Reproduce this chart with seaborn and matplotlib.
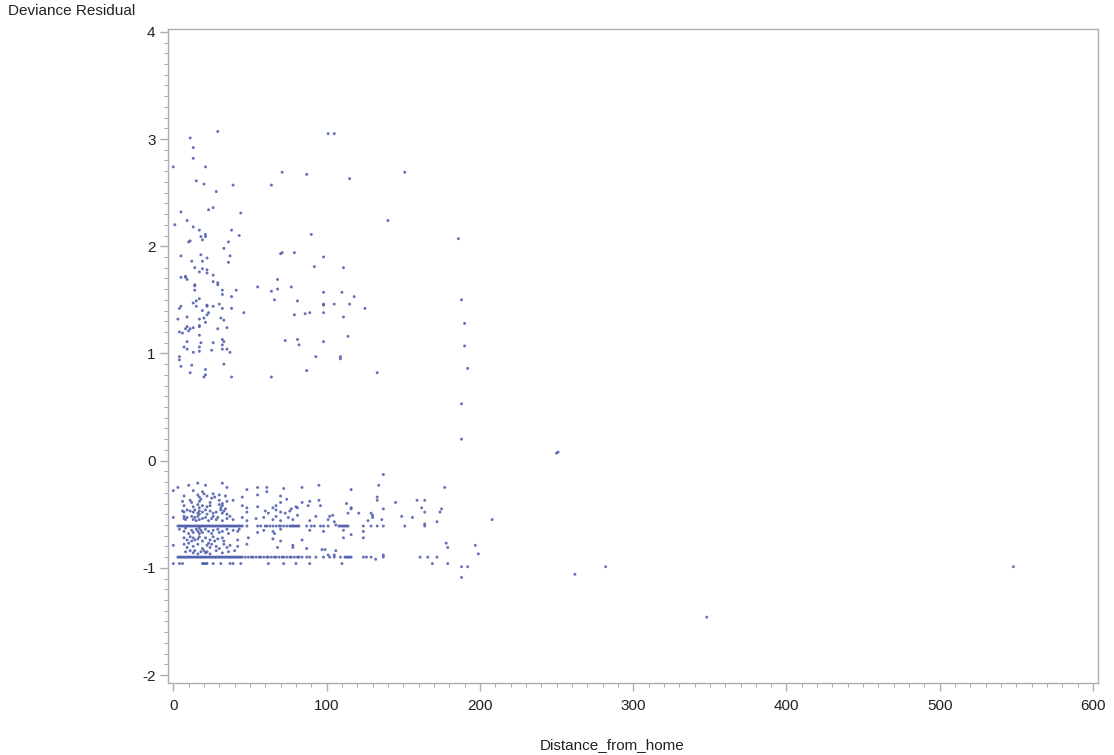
import matplotlib
matplotlib.use("Agg")
import matplotlib.pyplot as plt
import pandas as pd
import seaborn as sns
from matplotlib.ticker import MultipleLocator, FixedLocator

# ---- data: (distance_from_home, deviance residual) ----
# observations with a positive residual
pos_points = [
    (29, 3.07), (11, 3.01), (13, 2.92), (13, 2.82), (0, 2.74), (21, 2.74), (71, 2.69),
    (15, 2.61), (20, 2.58), (39, 2.57), (64, 2.57), (28, 2.51), (5, 2.32), (23, 2.34),
    (26, 2.36), (44, 2.31), (9, 2.24), (1, 2.20), (13, 2.18), (17, 2.15), (38, 2.15),
    (21, 2.11), (18, 2.09), (21, 2.09), (43, 2.10), (19, 2.06), (11, 2.05), (10, 2.04),
    (36, 2.04), (33, 1.98), (71, 1.94), (70, 1.93), (79, 1.94), (5, 1.91), (18, 1.92),
    (22, 1.89), (37, 1.91), (12, 1.86), (19, 1.86), (36, 1.85), (14, 1.80), (17, 1.76),
    (19, 1.79), (22, 1.78), (22, 1.75), (26, 1.73), (5, 1.71), (8, 1.72), (8, 1.71),
    (9, 1.69), (68, 1.69),
    (14, 1.64), (14, 1.63), (26, 1.67), (29, 1.66), (29, 1.64), (55, 1.62), (64, 1.58),
    (68, 1.60), (77, 1.62), (32, 1.59), (41, 1.59), (14, 1.59), (32, 1.55), (38, 1.53),
    (17, 1.51), (66, 1.50), (15, 1.49), (13, 1.47), (30, 1.46), (81, 1.49), (22, 1.45),
    (22, 1.44), (15, 1.44), (26, 1.44), (5, 1.44), (4, 1.42), (32, 1.42), (38, 1.42),
    (19, 1.40), (23, 1.38), (46, 1.38), (9, 1.34), (22, 1.36), (79, 1.36), (3, 1.32),
    (20, 1.33), (31, 1.33), (17, 1.32), (21, 1.29), (33, 1.31), (17, 1.26), (17, 1.25),
    (9, 1.25), (35, 1.24), (8, 1.23), (11, 1.23), (10, 1.21), (13, 1.24), (29, 1.23),
    (4, 1.20), (6, 1.19), (17, 1.17), (32, 1.13), (81, 1.13), (73, 1.12), (9, 1.11),
    (18, 1.10), (26, 1.10), (33, 1.11), (32, 1.08), (82, 1.08), (7, 1.06), (17, 1.06),
    (9, 1.04), (32, 1.04), (35, 1.04), (25, 1.03), (17, 1.02), (37, 1.01), (13, 1.01),
    (4, 0.97), (4, 0.94), (12, 0.89), (33, 0.90), (5, 0.88), (21, 0.85), (11, 0.82),
    (21, 0.80), (20, 0.78), (38, 0.78), (64, 0.78),
    (101, 3.05), (105, 3.05), (87, 2.67), (151, 2.69), (115, 2.63), (140, 2.24),
    (90, 2.11), (186, 2.07), (98, 1.90), (92, 1.81), (111, 1.80), (98, 1.57), (110, 1.57),
    (118, 1.53), (98, 1.46), (98, 1.45), (105, 1.46), (115, 1.46), (125, 1.42),
    (188, 1.50), (86, 1.37), (89, 1.38), (98, 1.38), (111, 1.34), (190, 1.28), (98, 1.11),
    (114, 1.16), (190, 1.07), (93, 0.97), (109, 0.97), (109, 0.95), (87, 0.84),
    (133, 0.82), (192, 0.86), (188, 0.53), (188, 0.20), (250, 0.07), (251, 0.08),
]

# observations with a negative residual (scattered part)
neg_points = [
    (3, -0.25), (10, -0.23), (16, -0.21), (21, -0.23), (32, -0.21), (35, -0.25),
    (55, -0.25), (61, -0.25), (72, -0.26),
    (0, -0.28), (13, -0.28), (19, -0.29), (48, -0.27), (61, -0.29),
    (7, -0.33), (16, -0.32), (17, -0.34), (20, -0.31), (22, -0.33), (25, -0.35),
    (26, -0.31), (27, -0.34), (30, -0.32), (34, -0.33), (45, -0.34), (55, -0.32),
    (70, -0.33), (74, -0.36),
    (6, -0.38), (11, -0.37), (12, -0.39), (17, -0.38), (18, -0.36), (24, -0.39),
    (30, -0.37), (32, -0.40), (35, -0.38), (39, -0.37), (70, -0.39),
    (7, -0.42), (13, -0.43), (16, -0.41), (17, -0.44), (19, -0.42), (22, -0.43),
    (24, -0.42), (30, -0.41), (31, -0.44), (32, -0.42), (34, -0.45), (45, -0.42),
    (48, -0.44), (55, -0.43), (65, -0.44), (67, -0.42), (80, -0.43),
    (6, -0.47), (7, -0.48), (9, -0.46), (11, -0.47), (13, -0.48), (14, -0.46),
    (16, -0.49), (17, -0.47), (17, -0.50), (19, -0.48), (21, -0.46), (22, -0.50),
    (24, -0.47), (26, -0.49), (28, -0.48), (31, -0.46), (32, -0.49), (33, -0.47),
    (35, -0.50), (48, -0.48), (60, -0.47), (62, -0.49), (67, -0.46), (70, -0.48),
    (73, -0.49), (76, -0.47),
    (0, -0.53), (7, -0.54), (7, -0.52), (8, -0.55), (9, -0.53), (12, -0.52),
    (13, -0.55), (14, -0.53), (15, -0.56), (16, -0.52), (17, -0.55), (19, -0.54),
    (21, -0.53), (23, -0.56), (25, -0.54), (26, -0.52), (28, -0.55), (29, -0.53),
    (32, -0.56), (35, -0.54), (37, -0.52), (39, -0.55), (45, -0.53), (48, -0.56),
    (54, -0.54), (59, -0.53), (65, -0.55), (67, -0.52), (70, -0.56), (75, -0.53),
    (78, -0.55),
    (4, -0.64), (7, -0.66), (8, -0.63), (10, -0.68), (12, -0.65), (13, -0.67),
    (15, -0.64), (16, -0.66), (17, -0.68), (17, -0.63), (18, -0.65), (19, -0.67),
    (21, -0.64), (23, -0.66), (25, -0.68), (26, -0.65), (29, -0.64), (30, -0.67),
    (32, -0.66), (35, -0.64), (36, -0.68), (39, -0.65), (42, -0.66), (43, -0.64),
    (55, -0.67), (59, -0.65), (65, -0.66), (66, -0.68), (70, -0.64),
    (7, -0.72), (9, -0.74), (11, -0.71), (12, -0.75), (13, -0.72), (14, -0.74),
    (16, -0.73), (17, -0.71), (19, -0.75), (21, -0.72), (24, -0.74), (26, -0.71),
    (27, -0.75), (29, -0.73), (32, -0.72), (33, -0.75), (42, -0.74), (49, -0.72),
    (65, -0.73), (70, -0.75),
    (0, -0.79), (7, -0.78), (9, -0.81), (10, -0.77), (13, -0.80), (16, -0.78),
    (19, -0.82), (22, -0.79), (23, -0.77), (24, -0.81), (25, -0.78), (28, -0.80),
    (30, -0.82), (33, -0.78), (35, -0.81), (37, -0.79), (42, -0.80), (48, -0.78),
    (68, -0.81), (78, -0.79),
    (8, -0.85), (11, -0.84), (13, -0.86), (14, -0.84), (16, -0.87), (18, -0.85),
    (20, -0.84), (21, -0.86), (22, -0.85), (24, -0.87), (28, -0.84), (32, -0.86),
    (36, -0.85), (40, -0.84),
    (137, -0.13), (84, -0.25), (95, -0.23), (134, -0.23), (177, -0.25), (116, -0.27),
    (133, -0.34), (133, -0.37), (145, -0.39), (159, -0.37), (164, -0.37), (84, -0.39),
    (89, -0.38), (95, -0.37), (88, -0.42), (96, -0.42), (113, -0.40), (116, -0.44),
    (116, -0.45), (77, -0.45), (81, -0.44), (137, -0.45), (162, -0.44), (164, -0.48),
    (175, -0.45), (174, -0.48), (81, -0.51), (93, -0.52), (104, -0.51), (114, -0.49),
    (121, -0.49), (129, -0.49), (130, -0.51), (130, -0.53), (102, -0.52), (101, -0.55),
    (89, -0.56), (127, -0.56), (136, -0.55), (149, -0.52), (156, -0.53), (172, -0.57),
    (208, -0.55), (105, -0.57), (106, -0.60), (164, -0.59), (89, -0.65), (98, -0.66),
    (111, -0.65), (124, -0.66), (116, -0.69), (111, -0.72), (124, -0.72), (84, -0.74),
    (178, -0.77), (179, -0.81), (197, -0.79), (199, -0.87), (78, -0.81), (87, -0.82),
    (97, -0.83), (99, -0.83), (106, -0.84), (101, -0.88), (105, -0.88), (132, -0.92),
    (137, -0.88), (188, -0.99), (192, -0.99), (188, -1.09), (282, -0.99),
    (262, -1.06), (348, -1.46), (548, -0.99),
]

# repeated residual values: many distances share the same fitted residual
band_a_resid = -0.61
band_a_dist = [
    3, 4, 5, 6, 7, 8, 9, 10, 11, 12, 13, 14, 15, 16, 17, 18, 19, 20, 21, 22, 23, 24,
    25, 26, 27, 28, 29, 30, 31, 32, 33, 34, 35, 36, 37, 38, 39, 40, 41, 42, 43, 44, 45,
    48, 55, 57, 60, 61, 63, 65, 67, 69, 70, 72, 74, 76, 77, 78, 79, 80, 81, 82, 87, 90,
    92, 96, 98, 101, 108, 109, 110, 111, 112, 113, 114, 124, 129, 133, 137, 151, 164,
]
band_b_resid = -0.90
band_b_dist = [
    3, 4, 5, 6, 7, 8, 9, 10, 11, 12, 13, 14, 15, 16, 17, 18, 19, 20, 21, 22, 23, 24,
    25, 26, 27, 28, 29, 30, 31, 32, 33, 34, 35, 36, 37, 38, 39, 40, 41, 42, 43, 44, 45,
    47, 49, 51, 52, 54, 56, 57, 59, 61, 62, 64, 66, 67, 69, 71, 72, 74, 76, 77, 79, 81,
    82, 84, 87, 89, 93, 98, 102, 105, 109, 112, 113, 114, 115, 116, 124, 126, 129, 137,
    161, 166, 172,
]
band_c_resid = -0.96
band_c_dist = [0, 4, 6, 19, 20, 21, 22, 26, 31, 37, 39, 44, 62, 72, 80, 89, 110, 169, 179]

x_ticks = [0, 100, 200, 300, 400, 500, 600]
y_ticks = [-2, -1, 0, 1, 2, 3, 4]

# ---- assemble one long table ----
rows = list(pos_points) + list(neg_points)
rows += [(d, band_a_resid) for d in band_a_dist]
rows += [(d, band_b_resid) for d in band_b_dist]
rows += [(d, band_c_resid) for d in band_c_dist]
df = pd.DataFrame(rows, columns=["Distance_from_home", "Deviance Residual"])

# ---- styling ----
sns.set_theme(style="white")
plt.rcParams["font.family"] = ["Liberation Sans", "DejaVu Sans"]
plt.rcParams["axes.unicode_minus"] = False

W, H = 1114, 755
fig = plt.figure(figsize=(W / 100, H / 100), dpi=100)
fig.patch.set_facecolor("white")

left_px, right_px, top_px, bottom_px = 168, 1098.3, 28.7, 683.3
ax = fig.add_axes([left_px / W, 1 - bottom_px / H,
                   (right_px - left_px) / W, (bottom_px - top_px) / H])

sns.scatterplot(data=df, x="Distance_from_home", y="Deviance Residual", ax=ax,
                marker="o", s=4.5, color="#4A5AAA", edgecolor="none",
                linewidth=0, alpha=0.85, legend=False)

ax.set_xlim(-3.46, 603.4)
ax.set_ylim(-2.077, 4.029)

axis_grey = "#A9AEB3"
for sp in ax.spines.values():
    sp.set_color(axis_grey)
    sp.set_linewidth(1.0)
    sp.set_visible(True)

ax.xaxis.set_major_locator(FixedLocator(x_ticks))
ax.yaxis.set_major_locator(FixedLocator(y_ticks))
ax.xaxis.set_minor_locator(MultipleLocator(10))
ax.yaxis.set_minor_locator(MultipleLocator(0.1))
ax.set_xticklabels([str(v) for v in x_ticks])
ax.set_yticklabels([str(v) for v in y_ticks])

ax.tick_params(axis="both", which="major", direction="out", length=6, width=1.0,
               color=axis_grey, labelsize=11, labelcolor="#222222", pad=3,
               bottom=True, left=True, top=False, right=False)
ax.tick_params(axis="both", which="minor", direction="out", length=3, width=0.8,
               color=axis_grey, bottom=True, left=True, top=False, right=False)
ax.tick_params(axis="x", which="major", pad=5)

ax.set_xlabel("")
ax.set_ylabel("")
ax.grid(False)

fig.text(612 / W, 1 - 745 / H, "Distance_from_home", ha="center", va="center",
         fontsize=11, color="#222222")
fig.text(8 / W, 1 - 4 / H, "Deviance Residual", ha="left", va="top",
         fontsize=11, color="#222222")

fig.savefig("out.png", dpi=100, facecolor="white")
